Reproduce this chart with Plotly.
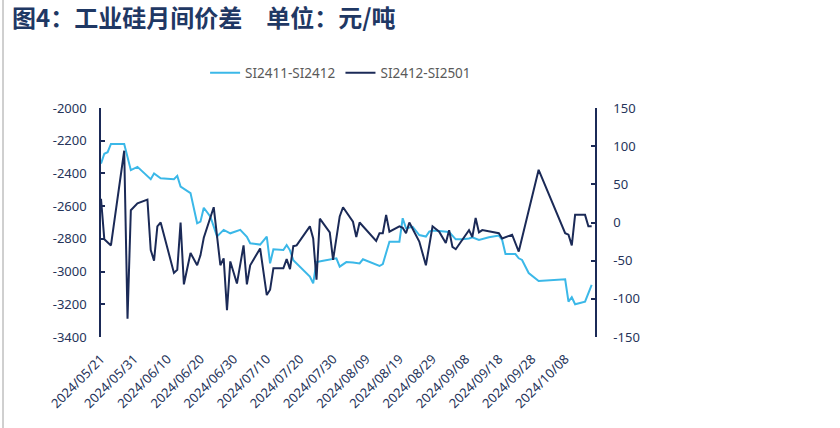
import plotly.graph_objects as go

# SI2411-SI2412 (left axis)
dates_a = ['2024-05-21','2024-05-22','2024-05-23','2024-05-24','2024-05-27','2024-05-28','2024-05-30','2024-06-01',
           '2024-06-05','2024-06-06','2024-06-08','2024-06-12','2024-06-13','2024-06-14','2024-06-17','2024-06-19',
           '2024-06-20','2024-06-21','2024-06-23','2024-06-25','2024-06-27','2024-06-29','2024-07-02','2024-07-04',
           '2024-07-05','2024-07-08','2024-07-10','2024-07-11','2024-07-12','2024-07-15','2024-07-16','2024-07-17',
           '2024-07-18','2024-07-20','2024-07-23','2024-07-24','2024-07-25','2024-07-27','2024-07-31','2024-08-01',
           '2024-08-03','2024-08-05','2024-08-07','2024-08-08','2024-08-10','2024-08-13','2024-08-14','2024-08-16',
           '2024-08-19','2024-08-20','2024-08-21','2024-08-23','2024-08-25','2024-08-27','2024-08-28','2024-08-29',
           '2024-08-31','2024-09-03','2024-09-05','2024-09-07','2024-09-09','2024-09-10','2024-09-12','2024-09-15',
           '2024-09-18','2024-09-19','2024-09-20','2024-09-23','2024-09-24','2024-09-25','2024-09-27','2024-09-30',
           '2024-10-08','2024-10-09','2024-10-10','2024-10-11','2024-10-14','2024-10-16']
vals_a = [-2340,-2280,-2270,-2220,-2220,-2220,-2380,-2360,
          -2435,-2400,-2430,-2435,-2415,-2480,-2520,-2705,
          -2695,-2610,-2665,-2785,-2745,-2766,-2745,-2787,
          -2827,-2835,-2786,-2950,-2864,-2868,-2838,-2870,
          -2930,-2970,-3031,-3072,-2942,-2934,-2919,-2970,
          -2942,-2945,-2950,-2925,-2940,-2966,-2954,-2817,
          -2817,-2674,-2735,-2726,-2777,-2786,-2756,-2749,
          -2752,-2758,-2803,-2803,-2798,-2790,-2807,-2790,
          -2780,-2807,-2893,-2893,-2919,-2929,-3009,-3058,
          -3047,-3184,-3157,-3200,-3184,-3082]

# SI2412-SI2501 (right axis)
dates_b = ['2024-05-21','2024-05-22','2024-05-24','2024-05-28','2024-05-29','2024-05-30','2024-06-01','2024-06-04',
           '2024-06-05','2024-06-06','2024-06-07','2024-06-08','2024-06-12','2024-06-13','2024-06-14','2024-06-15',
           '2024-06-17','2024-06-19','2024-06-20','2024-06-21','2024-06-24','2024-06-26','2024-06-27','2024-06-28',
           '2024-06-29','2024-07-01','2024-07-03','2024-07-04','2024-07-05','2024-07-08','2024-07-10','2024-07-11',
           '2024-07-12','2024-07-15','2024-07-16','2024-07-17','2024-07-18','2024-07-19','2024-07-23','2024-07-24',
           '2024-07-25','2024-07-26','2024-07-29','2024-07-30','2024-08-01','2024-08-02','2024-08-05','2024-08-06',
           '2024-08-07','2024-08-09','2024-08-12','2024-08-13','2024-08-14','2024-08-15','2024-08-16','2024-08-19',
           '2024-08-20','2024-08-21','2024-08-22','2024-08-25','2024-08-27','2024-08-29','2024-08-31','2024-09-02',
           '2024-09-03','2024-09-04','2024-09-05','2024-09-09','2024-09-10','2024-09-11','2024-09-12','2024-09-13',
           '2024-09-18','2024-09-19','2024-09-22','2024-09-24','2024-09-30','2024-10-08','2024-10-09','2024-10-10',
           '2024-10-11','2024-10-14','2024-10-15','2024-10-16']
vals_b = [31,-22,-30,94,-126,16,25,30,
          -36,-50,-5,0,-66,-62,0,-81,
          -40,-56,-43,-20,20,-56,-47,-115,
          -51,-80,-30,-81,-56,-34,-95,-88,
          -60,-60,-48,-61,-31,-30,-5,-21,
          -75,5,-13,-49,8,20,1,-19,
          0,-10,-24,-14,-14,10,-12,-5,
          -7,-14,0,-25,-56,-5,-12,-27,
          -10,-32,-35,-10,-19,6,-13,-10,
          -14,-21,-16,-38,69,-14,-16,-30,
          10,10,-5,-5]

# axis tick values and labels
left_ticks = [-3400, -3200, -3000, -2800, -2600, -2400, -2200, -2000]
left_labels = ['-3400', '-3200', '-3000', '-2800', '-2600', '-2400', '-2200', '-2000']
right_ticks = [-150, -100, -50, 0, 50, 100, 150]
right_labels = ['-150', '-100', '-50', '0', '50', '100', '150']

name_a = 'SI2411-SI2412'
name_b = 'SI2412-SI2501'
title_text = '<b>图4：工业硅月间价差\u3000单位：元/吨</b>'
x_range = ['2024-05-21', '2024-10-17']
ten_days = 10 * 24 * 3600 * 1000

navy = '#1B2A57'
light = '#3BB8E8'
tick_color = '#26345A'
font_family = 'Noto Sans'

fig = go.Figure()
fig.add_trace(go.Scatter(x=dates_a, y=vals_a, name=name_a, mode='lines',
                         line=dict(color=light, width=2), yaxis='y'))
fig.add_trace(go.Scatter(x=dates_b, y=vals_b, name=name_b, mode='lines',
                         line=dict(color=navy, width=2), yaxis='y2'))

fig.update_layout(
    width=840, height=428,
    margin=dict(l=101, r=245, t=108, b=91),
    paper_bgcolor='white', plot_bgcolor='white',
    font=dict(family=font_family, size=13, color=tick_color),
    title=dict(text=title_text, xref='container', yref='container',
               x=12/840, xanchor='left', y=1-19/428, yanchor='middle',
               font=dict(family='Noto Sans CJK SC', size=24, color='#1F3864')),
    showlegend=True,
    legend=dict(orientation='h', x=0.485, xanchor='center', y=1.153, yanchor='middle',
                font=dict(family=font_family, size=13.5, color='#595959'),
                bgcolor='rgba(0,0,0,0)'),
    xaxis=dict(type='date', range=x_range, tick0=x_range[0], dtick=ten_days,
               tickformat='%Y/%m/%d', tickangle=-45, showline=False, ticks='',
               showgrid=False, zeroline=False, ticklabelstandoff=11,
               tickfont=dict(size=13, color=tick_color)),
    xaxis2=dict(type='date', range=x_range, tick0=x_range[0], dtick=ten_days,
                overlaying='x', side='top', anchor='y', showline=True, linecolor=navy, linewidth=1.5,
                ticks='inside', ticklen=4, tickcolor=navy, tickwidth=1.5,
                showticklabels=False, showgrid=False, zeroline=False),
    yaxis=dict(range=[-3400, -2000], tickmode='array', tickvals=left_ticks, ticktext=left_labels,
               showline=True, linecolor=navy, linewidth=1.5,
               ticks='inside', ticklen=4, tickcolor=navy, tickwidth=1.5,
               showgrid=False, zeroline=False, ticklabelstandoff=10,
               tickfont=dict(size=13, color=tick_color)),
    yaxis2=dict(range=[-150, 150], tickmode='array', tickvals=right_ticks, ticktext=right_labels,
                overlaying='y', side='right', anchor='x',
                showline=True, linecolor=navy, linewidth=1.5,
                ticks='inside', ticklen=4, tickcolor=navy, tickwidth=1.5,
                showgrid=False, zeroline=False, ticklabelstandoff=14,
                tickfont=dict(size=13, color=tick_color)),
    shapes=[dict(type='line', xref='paper', yref='paper',
                 x0=(3-101)/494, x1=(3-101)/494, y0=-91/229, y1=1+108/229,
                 line=dict(color='#A0A0A0', width=1))],
)

fig.write_html('out.html')
